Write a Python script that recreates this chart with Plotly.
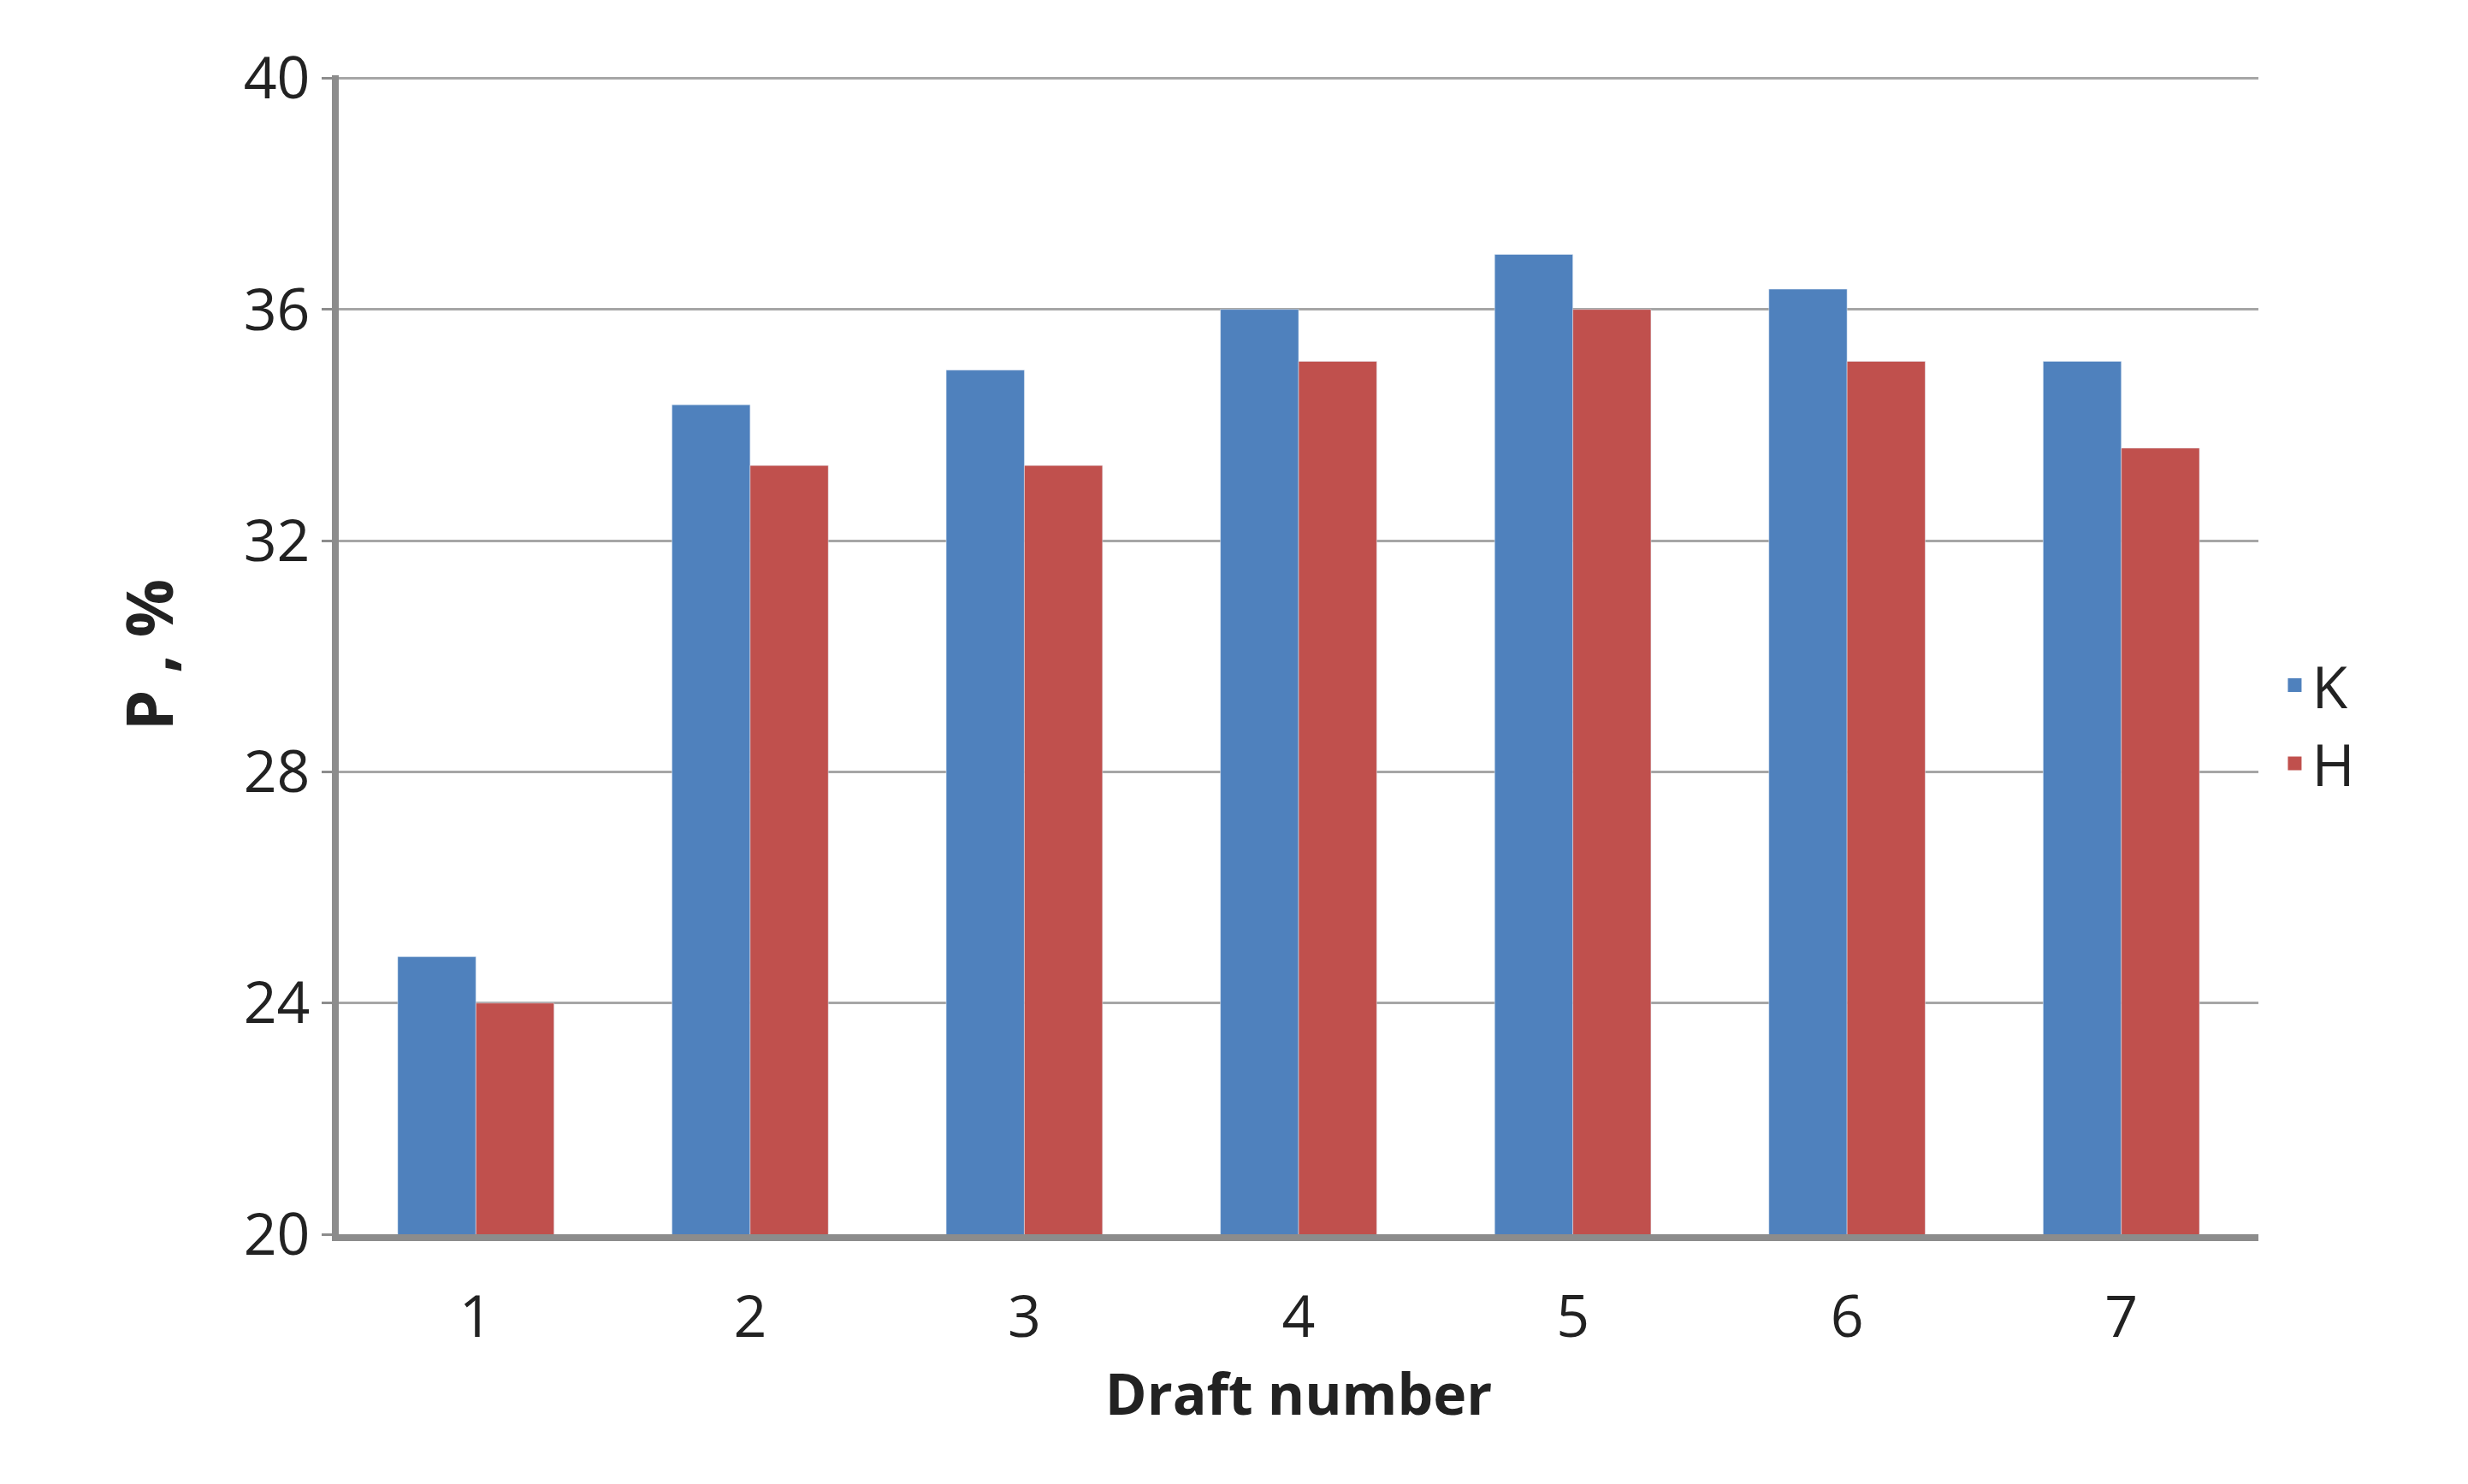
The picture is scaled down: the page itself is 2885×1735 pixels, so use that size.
import plotly.graph_objects as go

categories = ["1", "2", "3", "4", "5", "6", "7"]
k_values = [24.8, 34.35, 34.95, 36.0, 36.95, 36.35, 35.1]
h_values = [24.0, 33.3, 33.3, 35.1, 36.0, 35.1, 33.6]
y_ticks = [20, 24, 28, 32, 36, 40]
k_color = "#4F81BD"
h_color = "#C0504D"

fig = go.Figure()
fig.add_bar(x=categories, y=k_values, name="K", marker_color=k_color, showlegend=False)
fig.add_bar(x=categories, y=h_values, name="H", marker_color=h_color, showlegend=False)
for name, col in [("K", k_color), ("H", h_color)]:
    fig.add_scatter(x=[None], y=[None], mode="markers", name=name,
                    marker=dict(symbol="square", size=44, color=col))

fig.update_layout(
    width=2885, height=1735,
    paper_bgcolor="white", plot_bgcolor="white",
    barmode="group", bargap=0.43, bargroupgap=0,
    margin=dict(l=388, r=253, t=80, b=300),
    font=dict(family="Open Sans, DejaVu Sans", size=68, color="#222"),
    legend=dict(x=1.01, y=0.44, yanchor="middle", xanchor="left",
                font=dict(size=68), tracegroupgap=60, itemwidth=30),
    xaxis=dict(showline=True, linewidth=8, linecolor="#8c8c8c",
               ticks="", tickfont=dict(size=68), ticklabelstandoff=30,
               title=dict(text="<b>Draft number</b>", font=dict(size=66), standoff=15)),
    yaxis=dict(range=[20, 40.05], tickvals=y_ticks, showline=True, linewidth=8,
               linecolor="#8c8c8c", showgrid=True, gridcolor="#a6a6a6", gridwidth=3,
               ticks="outside", ticklen=12, tickcolor="#8c8c8c", tickwidth=3,
               tickfont=dict(size=68),
               title=dict(text="<b>P , %</b>", font=dict(size=76), standoff=60)),
)
fig.write_html("out.html")
